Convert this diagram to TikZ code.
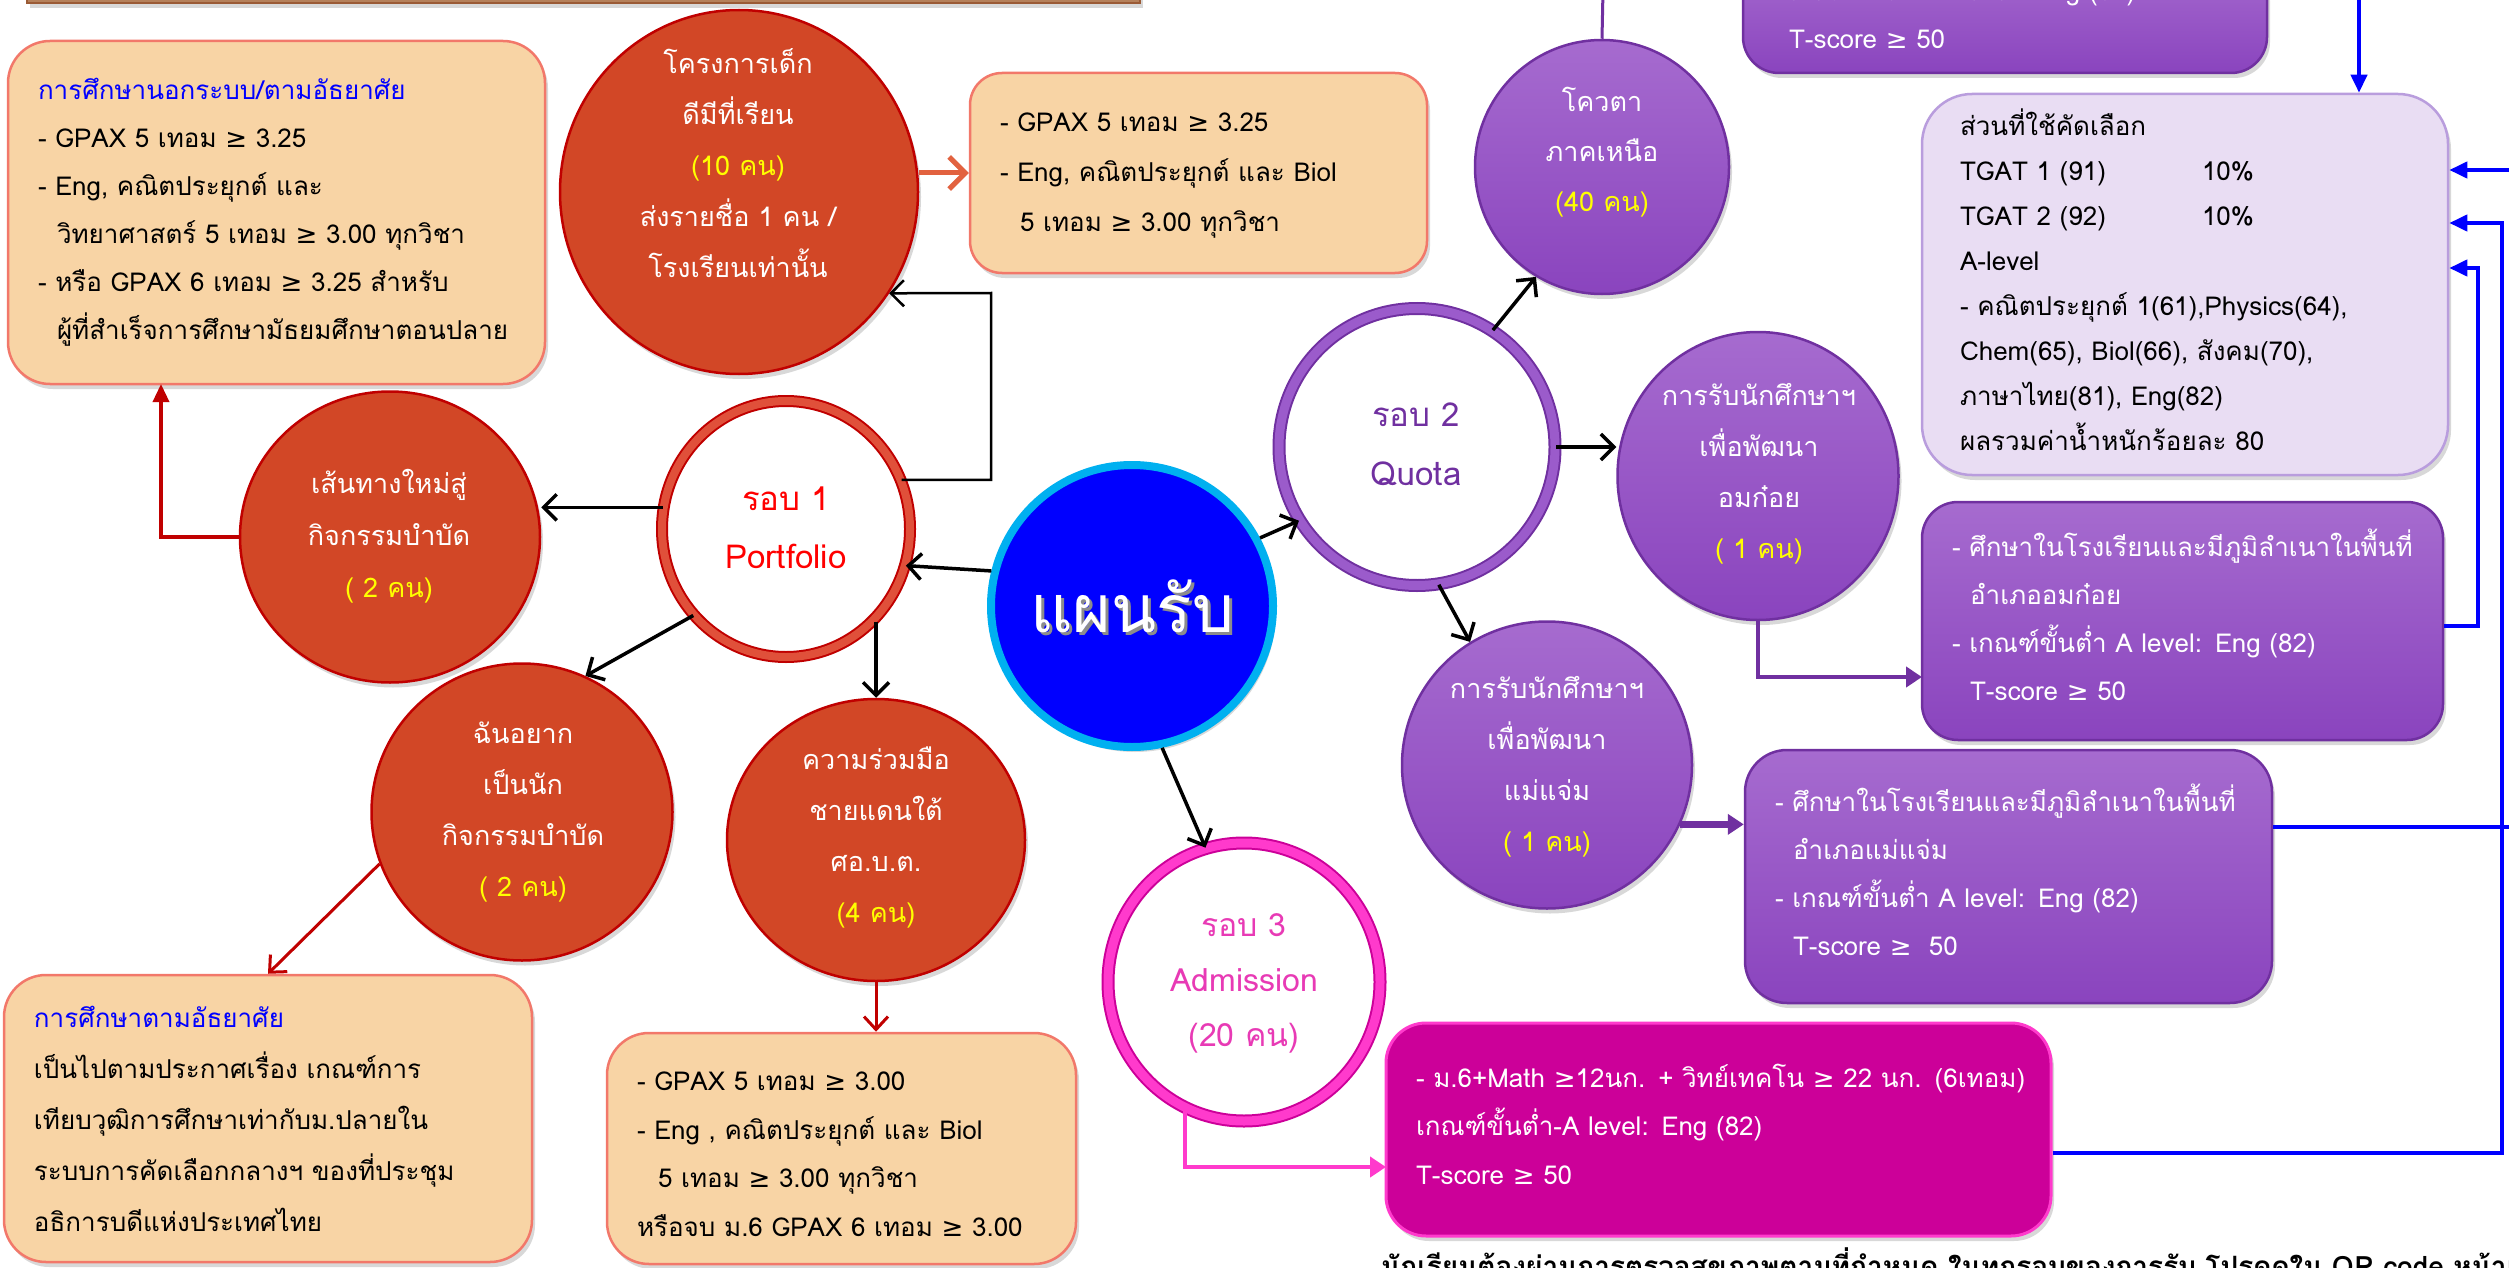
\documentclass[tikz,border=0pt]{standalone}
\usepackage{fontspec}
\setmainfont{Loma}[Script=Thai]
\newfontfamily\symfont{DejaVu Sans}
\newcommand\GE{{\symfont ≥}}
\usetikzlibrary{arrows.meta,shapes.geometric,shadows}
\definecolor{orred}{HTML}{D24726}
\definecolor{dkred}{HTML}{C00000}
\definecolor{ringred}{HTML}{E0503A}
\definecolor{peach}{HTML}{F8D4A5}
\definecolor{salmon}{HTML}{F2786A}
\definecolor{purpA}{HTML}{A66BCF}
\definecolor{purpB}{HTML}{8A44BE}
\definecolor{purpE}{HTML}{7030A0}
\definecolor{purpR}{HTML}{9B5BCB}
\definecolor{lav}{HTML}{E9DDF3}
\definecolor{lavE}{HTML}{B99DDD}
\definecolor{mag}{HTML}{CC0099}
\definecolor{magE}{HTML}{FF3ACC}
\definecolor{pinkT}{HTML}{E83AB5}
\definecolor{cyanE}{HTML}{00B0F0}
\definecolor{ylw}{HTML}{FFFF00}
\definecolor{orArrow}{HTML}{E2623F}
\definecolor{tlfill}{HTML}{B5805A}
\definecolor{tldraw}{HTML}{9A5A35}
\definecolor{pblue}{HTML}{0000FF}
\tikzset{
  shad/.style={drop shadow={opacity=0.3,shadow xshift=3pt,shadow yshift=-5pt}},
  pbox/.style={rectangle, draw=salmon, fill=peach, line width=2.5pt, rounded corners=42pt,
    inner xsep=30pt, inner ysep=0pt, align=left, font=\fontsize{26}{48}\selectfont, shad},
  pubox/.style={rectangle, draw=purpE, top color=purpA, bottom color=purpB, line width=2.5pt,
    rounded corners=42pt, inner sep=0pt, shad},
  lbox/.style={rectangle, draw=lavE, fill=lav, line width=2.5pt, rounded corners=50pt, inner sep=0pt, shad},
  mbox/.style={rectangle, draw=magE, fill=mag, line width=3pt, rounded corners=40pt, inner sep=0pt, shad},
  btext/.style={inner sep=0pt, align=left, font=\fontsize{26}{48}\selectfont},
  rcirc/.style={ellipse, draw=dkred, fill=orred, line width=2.5pt, inner sep=0pt, shad},
  pcirc/.style={ellipse, draw=purpE, top color=purpA, bottom color=purpB, line width=2.5pt, inner sep=0pt, shad},
  ctext/.style={text=white, align=center, inner sep=0pt, font=\fontsize{27}{51}\selectfont},
  blk/.style={draw=black, line width=3.5pt, -{Straight Barb[length=13pt,width=26pt]}},
  redbarb/.style={draw=dkred, line width=3pt, -{Straight Barb[length=13pt,width=24pt]}},
  redtri/.style={draw=dkred, line width=3.5pt, -{Triangle[length=18pt,width=16pt]}},
  purarr/.style={draw=purpE, line width=5pt, -{Triangle[length=16pt,width=20pt]}},
  pinkarr/.style={draw=magE, line width=4pt, -{Triangle[length=16pt,width=20pt]}},
  bluearr/.style={draw=pblue, line width=4pt, -{Triangle[length=18pt,width=16pt]}},
  blueln/.style={draw=pblue, line width=4pt},
}
\begin{document}
\begin{tikzpicture}[x=1pt,y=-1pt]
\useasboundingbox (0,0) rectangle (2509,1268);
\fill[white] (0,0) rectangle (2509,1268);

% ---------- boxes ----------
\node[rectangle, draw=tldraw, fill=tlfill, line width=2pt, minimum width=1113pt, minimum height=80pt, shad] (tl) at (583.5,-37) {};

\node[pbox, minimum width=537pt, minimum height=343pt, text width=477pt] (bA) at (276.5,212.5)
 {\textcolor{pblue}{การศึกษานอกระบบ/ตามอัธยาศัย}\\
  - GPAX 5 เทอม \GE{} 3.25\\
  - Eng, คณิตประยุกต์ และ\\
  \hspace*{19pt}วิทยาศาสตร์ 5 เทอม \GE{} 3.00 ทุกวิชา\\
  - หรือ GPAX 6 เทอม \GE{} 3.25 สำหรับ\\
  \hspace*{19pt}ผู้ที่สำเร็จการศึกษามัธยมศึกษาตอนปลาย};

\node[pbox, rounded corners=32pt, minimum width=457pt, minimum height=200pt] (bB) at (1198.5,173) {};
\node[btext, font=\fontsize{26}{50}\selectfont, text width=397pt] (bBt) at (1198.5,175.5)
 {- GPAX 5 เทอม \GE{} 3.25\\
  - Eng, คณิตประยุกต์ และ Biol\\
  \hspace*{20pt}5 เทอม \GE{} 3.00 ทุกวิชา};

\node[pubox, rounded corners=36pt, minimum width=524pt, minimum height=113pt] (bP) at (2005,16.5) {};
\node[btext, text=white, text width=432pt] (bPt) at (2005,11)
 {เกณฑ์ขั้นต่ำ A level: Eng (82)\\
  T-score \GE{} 50};

\node[lbox, minimum width=526pt, minimum height=381pt] (bD) at (2185,284.5) {};
\node[btext, font=\fontsize{26}{45}\selectfont, text width=450pt] (bDt) at (2185,279.5)
 {ส่วนที่ใช้คัดเลือก\\
  \makebox[242pt][l]{TGAT 1 (91)}10\%\\
  \makebox[242pt][l]{TGAT 2 (92)}10\%\\
  A-level\\
  - คณิตประยุกต์ 1(61),Physics(64),\\
  Chem(65), Biol(66), สังคม(70),\\
  ภาษาไทย(81), Eng(82)\\
  ผลรวมค่าน้ำหนักร้อยละ 80};

\node[pubox, rounded corners=36pt, minimum width=521pt, minimum height=238pt] (bE) at (2182.5,621) {};
\node[btext, text=white, text width=461pt] (bEt) at (2182.5,614.5)
 {- ศึกษาในโรงเรียนและมีภูมิลำเนาในพื้นที่\\
  \hspace*{18pt}อำเภออมก๋อย\\
  - เกณฑ์ขั้นต่ำ A level: Eng (82)\\
  \hspace*{18pt}T-score \GE{} 50};

\node[pubox, minimum width=527pt, minimum height=253pt] (bF) at (2008.5,876.5) {};
\node[btext, text=white, text width=467pt] (bFt) at (2008.5,869.5)
 {- ศึกษาในโรงเรียนและมีภูมิลำเนาในพื้นที่\\
  \hspace*{18pt}อำเภอแม่แจ่ม\\
  - เกณฑ์ขั้นต่ำ A level: Eng (82)\\
  \hspace*{18pt}T-score \GE{}\ \ 50};

\node[mbox, minimum width=665pt, minimum height=213pt] (bG) at (1718.5,1129.5) {};
\node[btext, text=white, font=\fontsize{26}{48.5}\selectfont, text width=605pt] (bGt) at (1718.5,1124)
 {\mbox{- ม.6+Math \GE12นก. + วิทย์เทคโน \GE{} 22 นก. (6เทอม)}\\
  เกณฑ์ขั้นต่ำ-A level: Eng (82)\\
  T-score \GE{} 50};

\node[pbox, font=\fontsize{26}{51}\selectfont, minimum width=528pt, minimum height=287pt, text width=468pt] (bH) at (268,1118.5)
 {\textcolor{pblue}{การศึกษาตามอัธยาศัย}\\
  เป็นไปตามประกาศเรื่อง เกณฑ์การ\\
  เทียบวุฒิการศึกษาเท่ากับม.ปลายใน\\
  ระบบการคัดเลือกกลางฯ ของที่ประชุม\\
  อธิการบดีแห่งประเทศไทย};

\node[pbox, minimum width=469pt, minimum height=231pt] (bI) at (841.5,1148.5) {};
\node[btext, font=\fontsize{26}{48.5}\selectfont, text width=409pt] (bIt) at (841.5,1154)
 {- GPAX 5 เทอม \GE{} 3.00\\
  - Eng , คณิตประยุกต์ และ Biol\\
  \hspace*{21pt}5 เทอม \GE{} 3.00 ทุกวิชา\\
  หรือจบ ม.6 GPAX 6 เทอม \GE{} 3.00};

% ---------- circles ----------
\node[circle, draw=cyanE, fill=blue, line width=8pt, minimum size=282pt, inner sep=0pt, shad] (cen) at (1132,606) {};
\node[text=black!45, inner sep=0pt, font=\fontsize{66}{66}\selectfont] (censh) at (1135,609) {แผนรับ};
\node[text=white, inner sep=0pt, font=\fontsize{66}{66}\selectfont] (cent) at (1132,606) {แผนรับ};

\node[rcirc, minimum width=358pt, minimum height=364pt] (c1) at (739,192) {};
\node[ctext] (c1t) at (738,163) {โครงการเด็ก\\ดีมีที่เรียน\\\textcolor{ylw}{(10 คน)}\\ส่งรายชื่อ 1 คน /\\โรงเรียนเท่านั้น};

\node[rcirc, minimum width=300pt, minimum height=291pt] (c3) at (390,537) {};
\node[ctext, font=\fontsize{27}{52}\selectfont] (c3t) at (389,536) {เส้นทางใหม่สู่\\กิจกรรมบำบัด\\\textcolor{ylw}{( 2 คน)}};

\node[rcirc, minimum width=301pt, minimum height=297pt] (c4) at (522,812) {};
\node[ctext] (c4t) at (523,812) {ฉันอยาก\\เป็นนัก\\กิจกรรมบำบัด\\\textcolor{ylw}{( 2 คน)}};

\node[rcirc, minimum width=298pt, minimum height=282pt] (c5) at (876,840) {};
\node[ctext] (c5t) at (876,837) {ความร่วมมือ\\ชายแดนใต้\\ศอ.บ.ต.\\\textcolor{ylw}{(4 คน)}};

\node[ellipse, draw=dkred, double=ringred, double distance=8pt, line width=2pt, fill=white, minimum width=248pt, minimum height=256pt, inner sep=0pt, shad] (r1) at (786,529) {};
\node[align=center, inner sep=0pt, text=red, font=\fontsize{33}{58}\selectfont] (r1t) at (786,528) {รอบ 1\\Portfolio};

\node[ellipse, draw=purpE, double=purpR, double distance=9pt, line width=2pt, fill=white, minimum width=276pt, minimum height=277pt, inner sep=0pt, shad] (r2) at (1417,447) {};
\node[align=center, inner sep=0pt, text=purpE, font=\fontsize{33}{59}\selectfont] (r2t) at (1416,444) {รอบ 2\\Quota};

\node[ellipse, draw=mag, double=magE, double distance=9pt, line width=2pt, fill=white, minimum width=272pt, minimum height=278pt, inner sep=0pt, shad] (r3) at (1244,982) {};
\node[align=center, inner sep=0pt, text=pinkT, font=\fontsize{32}{55}\selectfont] (r3t) at (1244,983) {รอบ 3\\Admission\\(20 คน)};

\node[pcirc, minimum width=254pt, minimum height=254pt] (c2) at (1602,167) {};
\node[ctext, font=\fontsize{27}{50}\selectfont] (c2t) at (1602,152) {โควตา\\ภาคเหนือ\\\textcolor{ylw}{(40 คน)}};

\node[pcirc, minimum width=281pt, minimum height=288pt] (c6) at (1758,476) {};
\node[ctext] (c6t) at (1759,474) {การรับนักศึกษาฯ\\เพื่อพัฒนา\\อมก๋อย\\\textcolor{ylw}{( 1 คน)}};

\node[pcirc, minimum width=290pt, minimum height=287pt] (c7) at (1547,765) {};
\node[ctext] (c7t) at (1547,767) {การรับนักศึกษาฯ\\เพื่อพัฒนา\\แม่แจ่ม\\\textcolor{ylw}{( 1 คน)}};

% ---------- bottom note ----------
\node[anchor=base west, inner sep=0pt, font=\bfseries\fontsize{28}{28}\selectfont] (note) at (1381,1276)
 {นักเรียนต้องผ่านการตรวจสุขภาพตามที่กำหนด ในทุกรอบของการรับ โปรดดูใน QR code หน้าแรก};

% ---------- helper coordinates ----------
\coordinate (k1) at (991,293);
\coordinate (k2) at (161,384);
\coordinate (k3) at (1922,677);
\coordinate (k4) at (1386,1167);
\coordinate (k5) at (2520,827);
\coordinate (k6) at (2502,1153);
\coordinate (k7) at (2502,223);
\coordinate (k8) at (2478,626);
\coordinate (k9) at (2478,268);
\coordinate (k10) at (2520,170);
\coordinate (k11) at (2359,-10);
\coordinate (k12) at (1603,-10);

% ---------- connectors ----------
\draw[blk] (cen.166) -- (r1.343);
\draw[blk] (cen.28) -- (r2.212);
\draw[blk] (cen.282) -- (r3.106);
\draw[blk] (r1.170) -- (c3.east |- r1.170);
\draw[blk] (r1.223) -- (c4.65);
\draw[blk] (r1.313 -| c5.north) -- (c5.north);
\draw[black, line width=2.5pt, -{Straight Barb[length=13pt,width=26pt]}] (r1.23) -| (k1) -- (c1.326);
\draw[orArrow, line width=5pt, -{Straight Barb[length=16pt,width=32pt]}] (c1.east |- bB.west) -- (bB.west);
\draw[redtri] (c3.west) -| (k2);
\draw[redbarb] (c4.200) -- (bH.north);
\draw[redbarb] (c5.south) -- (c5.south |- bI.north);
\draw[blk] (r2.57) -- (c2.239);
\draw[blk] (r2.east) -- (c6.west |- r2.east);
\draw[blk] (r2.279) -- (c7.122);
\draw[purpE, line width=3pt] (c2.north) -- (k12);
\draw[purarr, line width=4pt] (c6.south) |- (k3);
\draw[purarr, line width=7pt] (c7.336) -- (bF.west |- c7.336);
\draw[pinkarr] (r3.245) |- (k4);
\draw[blueln] (bF.east |- k5) -- (k5);
\draw[bluearr] (bG.east |- k6) -- (k6) -- (k7) -- (bD.east |- k7);
\draw[bluearr] (bE.east |- k8) -- (k8) -- (k9) -- (bD.east |- k9);
\draw[bluearr] (k10) -- (bD.east |- k10);
\draw[bluearr] (k11) -- (k11 |- bD.north);
\end{tikzpicture}
\end{document}
